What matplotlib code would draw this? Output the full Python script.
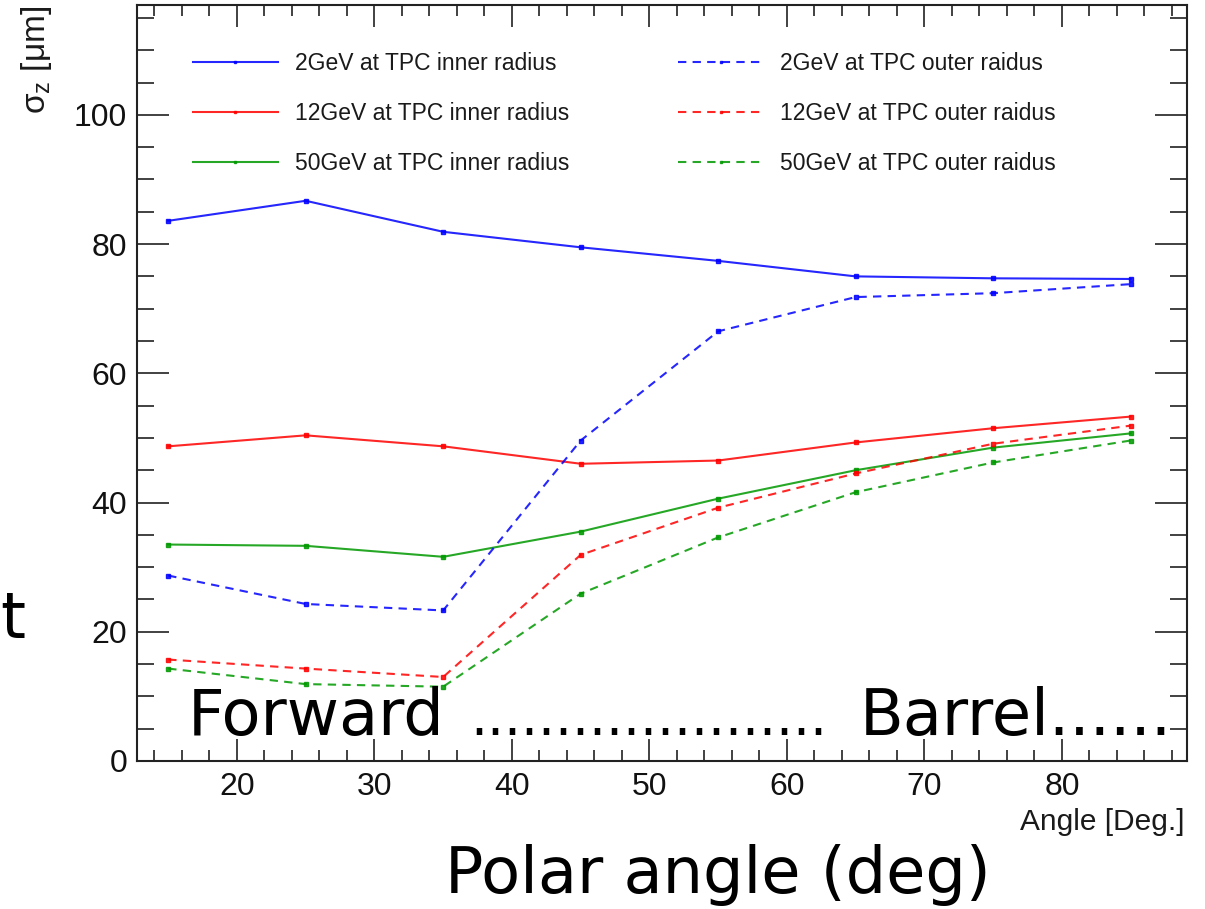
import matplotlib

matplotlib.use("Agg")
import matplotlib.pyplot as plt
from matplotlib.ticker import MultipleLocator

plt.rcParams["font.family"] = ["Liberation Sans", "DejaVu Sans"]
plt.rcParams["mathtext.fontset"] = "custom"
plt.rcParams["mathtext.rm"] = "Liberation Sans"

# polar angle of the track [deg]
angles = [15, 25, 35, 45, 55, 65, 75, 85]

# sigma_z [um]
inner_2gev = [83.6, 86.7, 81.9, 79.5, 77.4, 75.0, 74.7, 74.6]
inner_12gev = [48.7, 50.4, 48.7, 46.0, 46.5, 49.3, 51.5, 53.3]
inner_50gev = [33.5, 33.3, 31.6, 35.5, 40.6, 45.0, 48.5, 50.7]
outer_2gev = [28.7, 24.3, 23.3, 49.6, 66.5, 71.8, 72.4, 73.8]
outer_12gev = [15.7, 14.3, 13.0, 31.9, 39.2, 44.5, 49.1, 51.9]
outer_50gev = [14.3, 11.9, 11.5, 25.9, 34.6, 41.6, 46.2, 49.6]

labels_inner = ["2GeV at TPC inner radius", "12GeV at TPC inner radius", "50GeV at TPC inner radius"]
labels_outer = ["2GeV at TPC outer raidus", "12GeV at TPC outer raidus", "50GeV at TPC outer raidus"]

COLORS = ["#0000ff", "#ff0000", "#009900"]
W, H = 1205, 909


def main() -> None:
    fig = plt.figure(figsize=(W / 100, H / 100), dpi=100)
    ax = fig.add_axes([137 / W, 1 - 761 / H, 1050 / W, 756 / H])

    dash = (0, (4, 3))
    for ys, lab, c in zip([inner_2gev, inner_12gev, inner_50gev], labels_inner, COLORS):
        ax.plot(angles, ys, color=c, lw=1.5, marker="s", ms=2.5, label=lab, alpha=0.85)
    for ys, lab, c in zip([outer_2gev, outer_12gev, outer_50gev], labels_outer, COLORS):
        ax.plot(angles, ys, color=c, lw=1.5, ls=dash, marker="s", ms=2.5, label=lab, alpha=0.85)

    ax.set_xlim(12.73, 89.1)
    ax.set_ylim(0, 117)
    ax.xaxis.set_major_locator(MultipleLocator(10))
    ax.xaxis.set_minor_locator(MultipleLocator(2))
    ax.yaxis.set_major_locator(MultipleLocator(20))
    ax.yaxis.set_minor_locator(MultipleLocator(5))

    for s in ax.spines.values():
        s.set_linewidth(1.5)
        s.set_color("#222222")
    ax.tick_params(which="both", direction="in", top=True, right=True,
                   width=1.3, color="#333333", labelsize=23, labelcolor="#111111")
    ax.tick_params(axis="x", which="major", length=16, pad=8)
    ax.tick_params(axis="x", which="minor", length=8)
    ax.tick_params(axis="y", which="major", length=23, pad=7)
    ax.tick_params(axis="y", which="minor", length=12)

    fig.text(36 / W, 1 - 6 / H, r"$\mathregular{\sigma_{z}}$ [μm]", rotation=90,
             ha="center", va="top", fontsize=24, color="#1a1a1a")
    fig.text(1185 / W, 1 - 830 / H, "Angle [Deg.]", ha="right", va="baseline",
             fontsize=21.5, color="#1a1a1a")

    ax.legend(ncol=2, loc="upper left", bbox_to_anchor=(193 / W, 1 - 52 / H),
              bbox_transform=fig.transFigure, frameon=False, fontsize=16.5,
              handlelength=3.7, handletextpad=0.75, labelspacing=1.17,
              columnspacing=4.75, borderpad=0, borderaxespad=0, markerscale=0.6,
              labelcolor="#1a1a1a")

    # slide overlay text
    big = dict(family="DejaVu Sans", color="black", va="baseline")
    fig.text(188 / W, 1 - 735 / H, "Forward", fontsize=46, ha="left", **big)
    fig.text(470 / W, 1 - 735 / H, "." * 21, fontsize=38.5, ha="left", **big)
    fig.text(1172 / W, 1 - 735 / H, "Barrel......", fontsize=46, ha="right", **big)
    fig.text(718 / W, 1 - 893 / H, "Polar angle (deg)", fontsize=46, ha="center", **big)
    fig.text(0, 1 - 638 / H, "t", fontsize=46, ha="left", **big)

    fig.savefig("out.png", dpi=100)
    plt.close(fig)


if __name__ == "__main__":
    main()
